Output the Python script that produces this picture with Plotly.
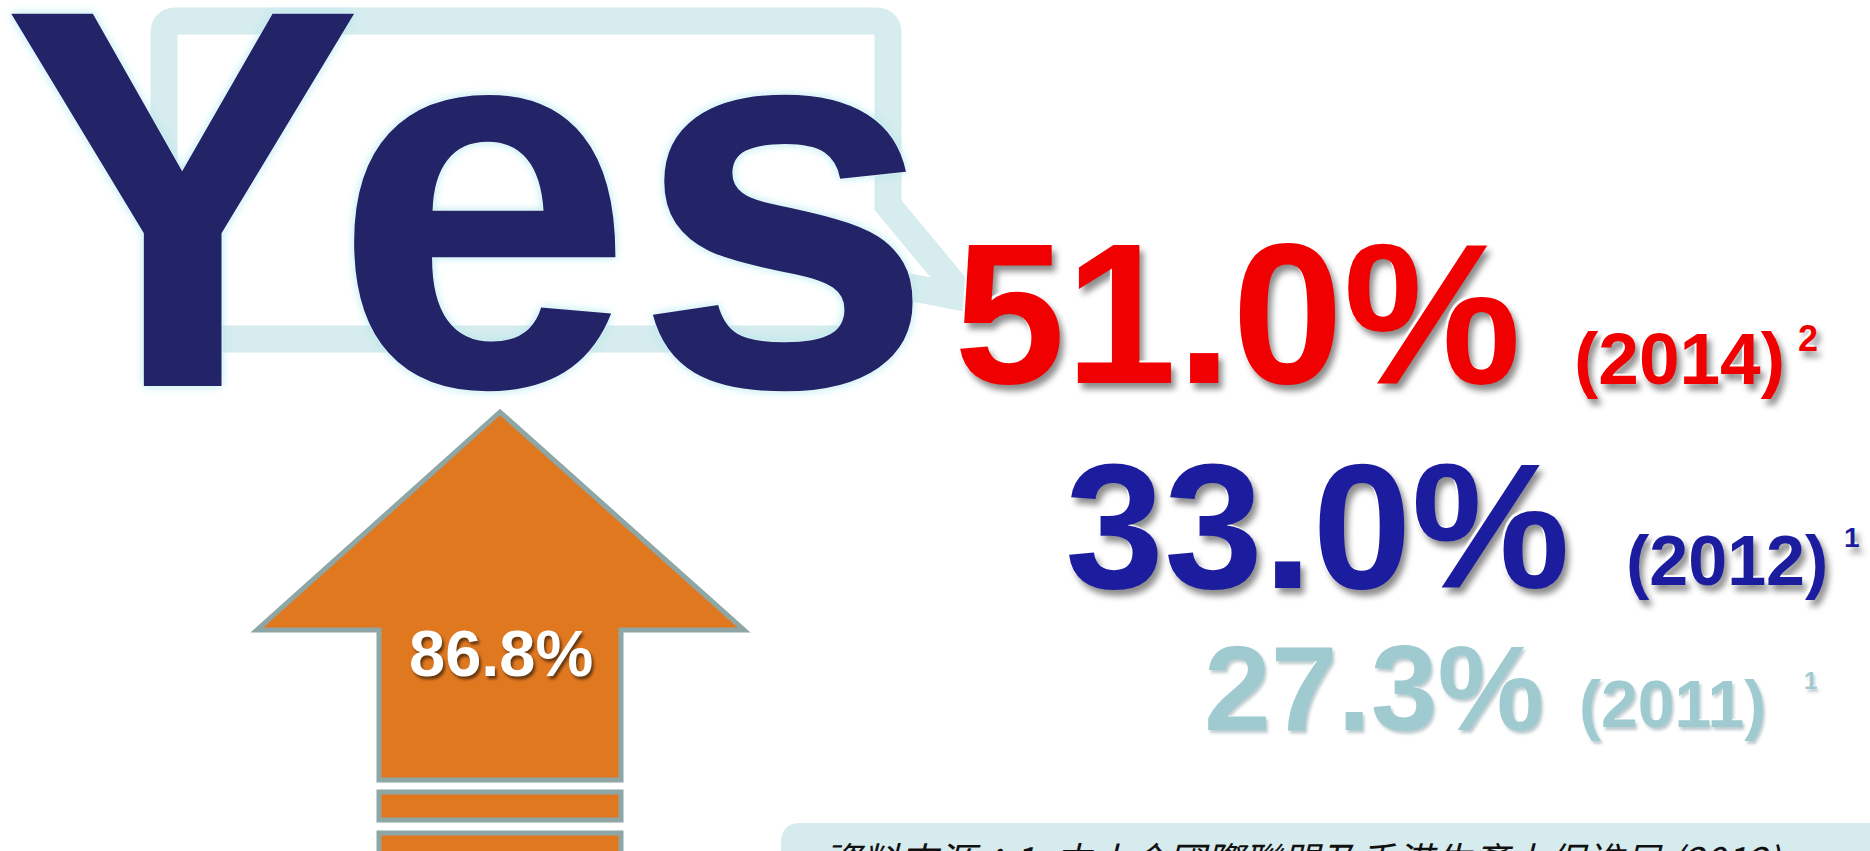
"""
「Yes」比率資訊圖
使用 Plotly 以註解與形狀重現
"""
import plotly.graph_objects as go

# 數據
rates = [51.0, 33.0, 27.3]
years = [2014, 2012, 2011]
source_refs = [2, 1, 1]
rate_colors = ["#f00000", "#1c1c9e", "#9fcbd0"]
growth = 86.8
headline = "Yes"
source_note = "資料來源：1: 中小企國際聯盟及香港生產力促進局 (2012)"

W, H = 1870, 851
FONT = "Liberation Sans, Arial, sans-serif"

# 每列的位置與字級 (像素座標)
rate_cx = [1237, 1317, 1374]      # 百分比中心 x
rate_cy = [313, 526, 688]         # 百分比大寫中心 y
rate_size = [200, 178, 120]
year_cx = [1679, 1727, 1672]
year_cy = [358, 561, 704]
year_size = [73, 70, 66]
ref_xy = [(1808, 338), (1852, 537), (1810, 680)]
ref_size = [36, 28, 24]
shadows = [
    "-2px -2px 1px #ffffff, 4px 6px 6px rgba(0,0,0,0.45)",
    "-2px -2px 1px #ffffff, 4px 6px 6px rgba(0,0,0,0.45)",
    "-1px -1px 1px #ffffff, 2px 3px 3px rgba(70,110,120,0.35)",
]

fig = go.Figure()

# 對話框
bubble = ("M 176,21 L 876,21 Q 888,21 888,33 L 888,205 L 965,298 L 888,283 "
          "L 888,327 Q 888,339 876,339 L 176,339 Q 164,339 164,327 "
          "L 164,33 Q 164,21 176,21 Z")
fig.add_shape(type="path", path=bubble, line=dict(color="#d6ecee", width=27),
              fillcolor="rgba(0,0,0,0)", layer="below")

# 向上箭頭
arrow = "M 500,412 L 744,630 L 621,630 L 621,780 L 379,780 L 379,630 L 257,630 Z"
fig.add_shape(type="path", path=arrow, fillcolor="#e07820",
              line=dict(color="#8ea6a6", width=5))
for y0, y1 in [(792, 820), (833, 862)]:
    fig.add_shape(type="rect", x0=379, x1=621, y0=y0, y1=y1, fillcolor="#e07820",
                  line=dict(color="#8ea6a6", width=5))

# 資料來源框
fig.add_shape(type="path",
              path="M 801,823 L 1900,823 L 1900,900 L 781,900 L 781,843 Q 781,823 801,823 Z",
              fillcolor="#d6ebee", line=dict(width=0), layer="below")

# Yes
fig.add_annotation(x=468, y=198, text=headline, showarrow=False,
                   xanchor="center", yanchor="middle",
                   font=dict(family=FONT, size=541, color="#232368", weight="bold",
                             shadow="0 0 2px #ffffff, 0 0 10px #a8e6ee"))

# 增幅
fig.add_annotation(x=501, y=653, text=f"{growth:.1f}%", showarrow=False,
                   xanchor="center", yanchor="middle",
                   font=dict(family=FONT, size=65, color="white", weight="bold",
                             shadow="2px 3px 3px rgba(0,0,0,0.55)"))

# 各年比率
for i, (r, yr, ref, c) in enumerate(zip(rates, years, source_refs, rate_colors)):
    fig.add_annotation(x=rate_cx[i], y=rate_cy[i], text=f"{r:.1f}%", showarrow=False,
                       xanchor="center", yanchor="middle",
                       font=dict(family=FONT, size=rate_size[i], color=c, weight="bold",
                                 shadow=shadows[i]))
    fig.add_annotation(x=year_cx[i], y=year_cy[i], text=f"({yr})", showarrow=False,
                       xanchor="center", yanchor="middle",
                       font=dict(family=FONT, size=year_size[i], color=c, weight="bold",
                                 shadow=shadows[i]))
    fig.add_annotation(x=ref_xy[i][0], y=ref_xy[i][1], text=str(ref), showarrow=False,
                       xanchor="center", yanchor="middle",
                       font=dict(family=FONT, size=ref_size[i], color=c, weight="bold",
                                 shadow=shadows[i]))

# 資料來源文字
fig.add_annotation(x=821, y=829, text=source_note, showarrow=False,
                   xanchor="left", yanchor="top",
                   font=dict(family="Noto Sans CJK TC", size=38, color="#111111",
                             style="italic"))

fig.update_layout(
    width=W, height=H,
    margin=dict(l=0, r=0, t=0, b=0),
    paper_bgcolor="white", plot_bgcolor="white",
    showlegend=False,
    xaxis=dict(range=[0, W], visible=False, fixedrange=True),
    yaxis=dict(range=[H, 0], visible=False, fixedrange=True),
)

fig.write_html("out.html", config={"displayModeBar": False},
               post_script="document.body.style.margin='0';")
